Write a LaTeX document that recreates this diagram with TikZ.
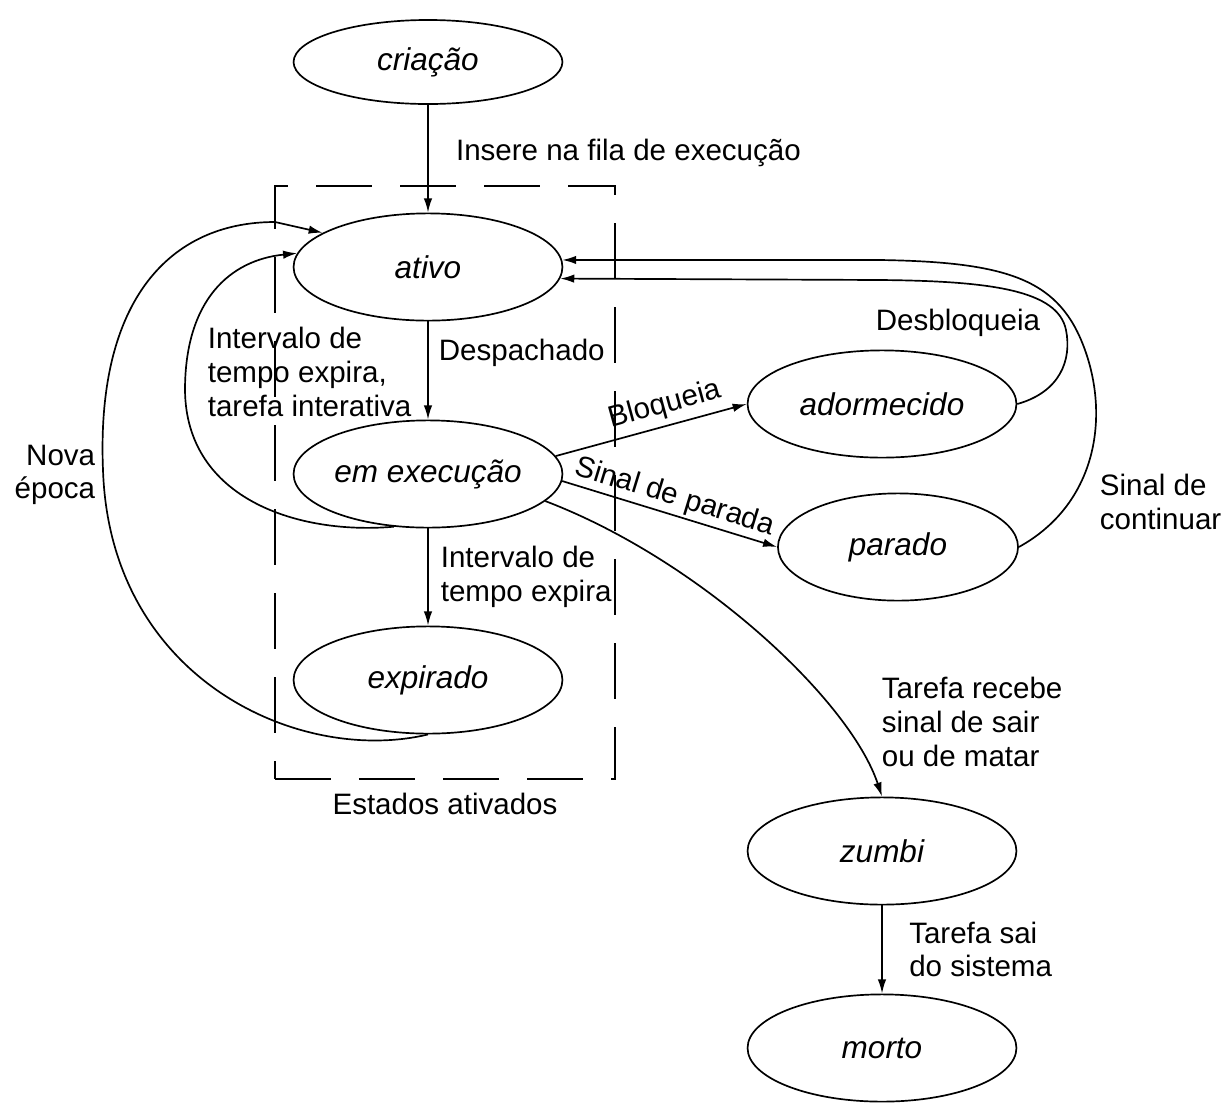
\documentclass[tikz,border=0pt]{standalone}
\usepackage{fontspec}
\setmainfont{Liberation Sans}
\usepackage{tikz}
\usetikzlibrary{shapes.geometric, arrows.meta, positioning}
\tikzstyle{estado} = [ellipse, minimum height=1.34cm, minimum width=3.36cm, inner sep=0pt, draw=black, font=\fontsize{11.2}{13}\selectfont\itshape]
\tikzstyle{arrow} = [->, >={Latex[length=5pt,width=3pt]}]
\tikzstyle{rotulo} = [align=left, inner sep=0pt]
\tikzstyle{grupo} = [draw, dash pattern=on 0.7cm off 0.35cm, minimum width=4.25cm, minimum height=7.41cm]

\begin{document}
\begin{tikzpicture}[x=0.0125cm, y=-0.0125cm, line width=0.6pt, font=\fontsize{10.5}{12}\selectfont]
        \useasboundingbox (0,0) rectangle (1226,1103);
        \node (ativados) [grupo] at (445,482.5) {};
        \node (legenda) [below=1pt of ativados] {Estados ativados};

        \node (criacao) [estado, minimum height=1.05cm] at (428,62) {criação};
        \node (ativo) [estado] at (428,267) {ativo};
        \node (execucao) [estado] at (428,474) {em execução};
        \node (expirado) [estado] at (428,680) {expirado};
        \node (adormecido) [estado] at (882,404) {adormecido};
        \node (parado) [estado, minimum width=3cm] at (898,547) {parado};
        \node (zumbi) [estado] at (882,851) {zumbi};
        \node (morto) [estado] at (882,1048) {morto};

        \draw [arrow] (criacao) -- node[rotulo, anchor=west, xshift=0.34cm, yshift=0.075cm] (insere) {Insere na fila de execução} (ativo);
        \draw [arrow] (ativo) -- node[rotulo, anchor=west, xshift=0.125cm, yshift=0.225cm] (despachado) {Despachado} (execucao);
        \draw [arrow] (execucao) -- node[rotulo, anchor=west, xshift=0.15cm] (expira) {Intervalo de\\tempo expira} (expirado);
        \draw [arrow] (zumbi) -- node[rotulo, anchor=west, xshift=0.33cm] (sai) {Tarefa sai\\do sistema} (morto);

        \draw [arrow] (execucao.8) -- node[sloped, above, pos=0.6, inner sep=2pt] (bloqueia) {Bloqueia} (adormecido.west);
        \draw [arrow] (execucao.-3) -- node[sloped, above, inner sep=1pt] (parada) {Sinal de parada} (parado.west);

        % laços de volta para o estado ativo
        \draw [arrow] (execucao.237) .. controls (300,535) and (186,500) .. (185,390) .. controls (185,300) and (230,260) .. (ativo.174);
        \draw [arrow] (expirado.south) .. controls (300,765) and (110,680) .. (103,470) .. controls (96,300) and (170,222) .. (275,222) -- (ativo.162);
        \draw [arrow] (adormecido.east) .. controls (1060,392) and (1072,360) .. (1066,330) .. controls (1058,290) and (990,281) .. (880,280) -- (ativo.-5);
        \draw [arrow] (parado.east) .. controls (1095,505) and (1110,420) .. (1085,350) .. controls (1060,280) and (1010,262) .. (880,260) -- (ativo.3);
        \draw [arrow] (execucao.-13) .. controls (700,560) and (850,700) .. (zumbi.north);

        \node (lblintervalo) [rotulo, anchor=west] at (207,372) {Intervalo de\\tempo expira,\\tarefa interativa};
        \node (lblnova) [rotulo, align=right, anchor=east] at (96,475) {Nova\\época};
        \node (lbldesbloq) [rotulo] at (958,323) {Desbloqueia};
        \node (lblcontinuar) [rotulo, anchor=west] at (1099,502) {Sinal de\\continuar};
        \node (lblrecebe) [rotulo, anchor=west] at (881,722) {Tarefa recebe\\sinal de sair\\ou de matar};
\end{tikzpicture}
\end{document}
